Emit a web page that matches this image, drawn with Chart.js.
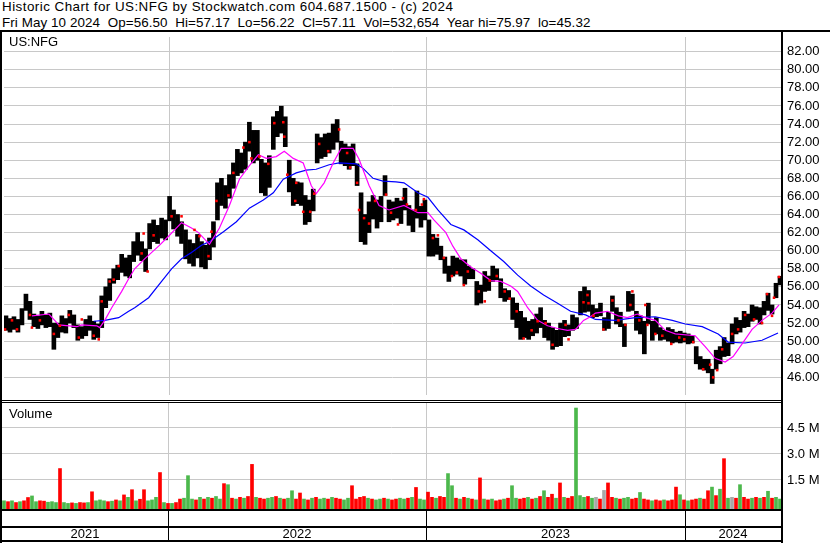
<!DOCTYPE html>
<html>
<head>
<meta charset="utf-8">
<script src="https://cdn.jsdelivr.net/npm/chart.js@4.4.1/dist/chart.umd.min.js"></script>
<style>
  body { margin: 0; background: #fff; }
  #page { position: relative; width: 830px; height: 543px; overflow: hidden; font-family: "Liberation Sans", Arial, sans-serif; color: #000; }
  .hdr { position: absolute; left: 2px; font-size: 13.4px; line-height: 15px; white-space: pre; }
  .tag { position: absolute; left: 9px; font-size: 13px; line-height: 15px; }
  .ln { position: absolute; background: #000; }
  canvas { position: absolute; left: 0; }
</style>
</head>
<body>
<div id="page">
  <div class="hdr" style="top:-1px;letter-spacing:0.46px">Historic Chart for US:NFG by Stockwatch.com 604.687.1500 - (c) 2024</div>
  <div class="hdr" style="top:15px;letter-spacing:0.09px">Fri May 10 2024  Op=56.50  Hi=57.17  Lo=56.22  Cl=57.11  Vol=532,654  Year hi=75.97  lo=45.32</div>

  <canvas id="price" width="830" height="366" style="top:33px"></canvas>
  <canvas id="volume" width="830" height="140" style="top:403px"></canvas>

  <div class="tag" style="top:34px">US:NFG</div>
  <div class="tag" style="top:406px">Volume</div>

  <div class="ln" style="left:0;top:30px;width:830px;height:2px"></div>
  <div class="ln" style="left:0;top:30px;width:2px;height:513px"></div>
  <div class="ln" style="left:781px;top:30px;width:2px;height:513px"></div>
  <div class="ln" style="left:0;top:400px;width:783px;height:1px"></div>
  <div class="ln" style="left:0;top:402px;width:783px;height:1px"></div>
</div>

<script>
// trading days shown, one pixel each; bars are 4-day windows
const dayCount = 780;
const yearStartDays = [166, 424, 683];
const yearLabels = ["2021", "2022", "2023", "2024"];

const priceTicks = [46, 48, 50, 52, 54, 56, 58, 60, 62, 64, 66, 68, 70, 72, 74, 76, 78, 80, 82];
const volumeTicks = [1.5, 3.0, 4.5];

const priceHigh = [
  52.8, 52.5, 52.7, 52.4, 53.6, 55.2, 54.4, 53.0, 52.8, 53.3,
  52.9, 53.1, 52.0, 52.0, 52.8, 52.5, 53.4, 52.9, 51.8, 51.6,
  52.4, 52.8, 52.2, 51.9, 55.0, 56.0, 56.9, 58.0, 58.4, 59.6,
  59.2, 59.5, 61.0, 62.0, 61.0, 60.2, 63.0, 63.4, 62.8, 63.6,
  63.4, 66.0, 64.5, 64.0, 63.2, 62.3, 61.2, 60.8, 61.8, 61.0,
  60.6, 61.4, 63.2, 67.5, 68.0, 67.2, 68.4, 69.7, 71.2, 70.8,
  72.0, 74.2, 73.3, 73.3, 70.1, 69.7, 70.5, 74.8, 75.4, 75.97,
  74.8, 70.0, 68.0, 67.6, 67.5, 66.1, 65.6, 66.8, 72.9, 72.5,
  72.9, 73.0, 74.0, 74.5, 72.1, 71.8, 71.5, 71.8, 69.6, 66.4,
  64.0, 65.4, 66.1, 65.6, 66.0, 68.3, 65.6, 65.4, 65.8, 65.5,
  66.9, 65.0, 64.5, 66.6, 64.9, 65.6, 63.4, 61.8, 61.4, 60.5,
  59.3, 58.3, 59.4, 59.2, 59.0, 59.0, 58.3, 58.0, 56.6, 56.2,
  57.7, 57.2, 58.3, 58.0, 56.9, 55.8, 55.6, 54.8, 54.2, 53.3,
  52.6, 52.2, 52.4, 53.0, 53.7, 52.3, 52.0, 51.5, 51.2, 52.0,
  52.3, 51.8, 52.9, 52.6, 55.5, 56.0, 55.6, 54.0, 53.6, 54.2,
  52.6, 53.2, 55.0, 53.7, 53.2, 51.9, 55.5, 55.2, 53.3, 52.8,
  52.2, 54.2, 52.2, 52.6, 51.5, 51.2, 51.5, 51.3, 51.0, 51.1,
  50.9, 50.8, 50.6, 49.4, 48.3, 48.0, 48.0, 46.9, 49.0, 49.4,
  50.4, 49.8, 51.9, 52.6, 52.3, 53.3, 53.0, 54.0, 53.8, 53.7,
  54.4, 55.3, 54.0, 56.4, 57.17
];

const priceLow = [
  51.2, 51.0, 51.3, 51.0, 51.8, 53.4, 52.4, 51.6, 51.4, 51.8,
  51.5, 51.6, 49.1, 50.4, 51.0, 50.9, 52.0, 51.5, 50.1, 50.3,
  50.6, 51.2, 50.2, 50.4, 51.5, 53.7, 54.5, 56.4, 56.8, 57.6,
  57.2, 57.0, 58.8, 59.5, 58.9, 57.7, 60.2, 61.0, 60.8, 61.4,
  61.2, 63.3, 62.4, 61.6, 60.8, 59.1, 58.6, 58.3, 59.2, 58.2,
  58.0, 59.0, 60.4, 63.4, 65.0, 64.7, 65.8, 66.9, 68.3, 68.6,
  69.0, 71.0, 69.7, 70.0, 66.4, 66.1, 67.0, 71.2, 72.6, 73.0,
  71.5, 66.5, 65.0, 65.2, 65.0, 62.9, 63.2, 64.4, 69.7, 70.2,
  70.4, 70.8, 71.2, 72.0, 69.6, 69.4, 69.0, 69.4, 67.2, 61.0,
  60.7, 62.0, 63.5, 62.5, 63.2, 66.1, 63.2, 63.4, 63.6, 63.0,
  64.5, 62.8, 62.1, 63.6, 62.6, 63.4, 59.4, 59.4, 59.6, 59.0,
  57.5, 56.6, 57.2, 57.4, 57.2, 56.3, 56.9, 56.9, 54.0, 54.2,
  55.5, 55.6, 56.6, 56.8, 54.8, 54.4, 54.6, 52.4, 51.5, 50.2,
  50.4, 50.2, 50.6, 50.9, 51.5, 50.4, 50.1, 49.1, 49.4, 49.5,
  50.5, 50.6, 51.2, 51.4, 52.9, 53.2, 53.3, 52.6, 52.7, 52.8,
  51.2, 51.4, 53.3, 51.9, 51.6, 49.4, 53.3, 53.4, 51.2, 50.8,
  48.6, 51.9, 50.1, 50.8, 50.1, 50.2, 50.0, 49.8, 49.9, 49.8,
  49.9, 49.7, 49.8, 47.5, 46.9, 46.8, 46.5, 45.32, 46.9, 47.5,
  48.3, 48.4, 49.7, 50.8, 51.0, 51.5, 51.6, 52.2, 52.4, 51.9,
  52.9, 53.4, 53.0, 54.8, 56.22
];

// volume in millions, same 4-day windows
const volumeM = [
  0.3, 0.25, 0.3, 0.2, 0.25, 0.3, 0.49, 0.58, 0.25, 0.3,
  0.28, 0.22, 0.25, 0.2, 2.16, 0.2, 0.15, 0.18, 0.15, 0.2,
  0.18, 0.2, 0.82, 0.3, 0.35, 0.3, 0.25, 0.28, 0.35, 0.3,
  0.64, 0.5, 0.94, 0.3, 0.39, 0.94, 0.3, 0.35, 0.5, 1.93,
  0.2, 0.15, 0.15, 0.2, 0.4, 0.45, 1.75, 0.4, 0.35, 0.5,
  0.4, 0.5, 0.45, 0.55, 0.4, 1.29, 1.23, 0.45, 0.4, 0.5,
  0.45, 0.55, 2.4, 0.5, 0.45, 0.4, 0.45, 0.5, 0.55, 0.45,
  0.4, 0.45, 0.88, 0.4, 0.75, 0.4, 0.35, 0.45, 0.5, 0.4,
  0.45, 0.4, 0.5, 0.45, 0.4, 0.35, 0.45, 1.17, 0.4, 0.5,
  0.55, 0.45, 0.4, 0.35, 0.4, 0.45, 0.4, 0.35, 0.4, 0.45,
  0.4, 0.45, 0.5, 1.07, 0.4, 0.35, 0.8, 0.5, 0.45, 0.55,
  0.5, 1.87, 1.17, 0.45, 0.4, 0.5, 0.45, 0.4, 0.35, 1.62,
  0.4, 0.35, 0.4, 0.3, 0.35, 0.4, 0.45, 1.17, 0.45, 0.4,
  0.45, 0.5, 0.4, 0.45, 0.55, 0.88, 0.5, 0.68, 0.45, 1.33,
  0.5, 0.45, 0.55, 5.65, 0.6, 0.5, 0.55, 0.45, 0.5, 0.4,
  0.9, 1.33, 0.5, 0.45, 0.4, 0.45, 0.5, 0.4, 0.45, 0.78,
  0.4, 0.35, 0.3, 0.35, 0.3, 0.35, 0.3, 0.35, 1.09, 0.65,
  0.35, 0.3, 0.35, 0.4, 0.45, 0.4, 0.88, 1.09, 0.6, 0.97,
  2.73, 0.45, 0.5, 0.45, 1.23, 0.5, 0.4, 0.45, 0.5, 0.45,
  0.5, 0.85, 0.45, 0.5, 0.4
];

// r = down, g = up, s = unchanged
const volumeDir =
  "grgrgrrggr" + "rgggrggrgr" + "rgrgggrgrg" + "rgrgrrgggr" + "grgrrgggrg" +
  "rgrggrgrgr" + "grrgrrggrg" + "rggrrgrgrg" + "grgrrggrrr" + "rgrggrgrrg" +
  "grgrggrrgr" + "rggrgrgrgr" + "grgrrgrggr" + "rgrgrgrrgr" + "grrgggrgsr" +
  "srrgrggrrg" + "rrgrrgrrrg" + "rgrrgrrgrg" + "rgsrgrrgrg" + "rgrgg";

// moving averages: day index and value
const fastDays = [28, 45, 55, 73, 78, 93, 96, 101, 108, 118, 125, 131, 141, 155, 165, 178, 188, 195, 206, 216,
  226, 236, 246, 255, 263, 273, 281, 290, 300, 308, 313, 321, 330, 338, 350, 356, 366, 376, 386, 401,
  415, 425, 431, 443, 450, 458, 468, 478, 488, 498, 508, 515, 525, 535, 545, 555, 565, 573, 581, 588,
  593, 605, 616, 625, 635, 643, 653, 663, 673, 693, 703, 713, 723, 731, 740, 750, 760, 770, 777];
const fastVals = [52.8, 53.0, 51.8, 51.6, 51.8, 51.7, 51.5, 52.3, 53.7, 55.5, 56.9, 58.0, 59.1, 60.5, 61.6, 63.1, 62.5, 62.0, 60.7, 62.5,
  65.0, 67.9, 69.4, 70.6, 70.2, 70.4, 71.0, 70.2, 69.7, 67.2, 66.3, 67.5, 69.7, 71.3, 71.3, 70.1, 67.2, 65.0, 64.5, 65.0,
  64.2, 64.2, 63.4, 62.0, 60.5, 59.1, 58.2, 57.5, 56.7, 56.6, 56.1, 55.5, 53.7, 52.3, 51.7, 51.4, 51.2, 51.3, 52.3, 52.7,
  53.1, 53.3, 52.8, 52.6, 53.0, 52.6, 52.3, 51.2, 50.8, 50.6, 49.4, 48.1, 47.7, 48.3, 49.7, 51.3, 52.3, 53.1, 54.0];

const slowDays = [90, 101, 115, 125, 131, 145, 158, 168, 178, 188, 198, 206, 220, 233, 246, 260, 270, 280, 293, 303,
  313, 326, 336, 353, 360, 370, 380, 393, 401, 415, 425, 435, 448, 461, 475, 488, 501, 515, 528, 541,
  555, 568, 583, 593, 613, 633, 653, 670, 683, 700, 716, 726, 743, 760, 776];
const slowVals = [52.2, 52.3, 52.6, 53.3, 53.7, 54.8, 56.6, 58.0, 59.1, 59.8, 60.6, 61.0, 62.1, 63.2, 64.7, 65.6, 66.4, 67.9, 68.6, 68.9,
  69.0, 69.5, 69.7, 69.6, 69.1, 68.0, 67.7, 67.6, 67.5, 66.4, 65.9, 64.5, 62.9, 62.3, 61.2, 60.0, 58.8, 57.3, 56.1, 55.1,
  54.2, 53.3, 52.9, 52.4, 52.3, 52.6, 52.7, 52.3, 51.9, 51.6, 50.8, 49.9, 49.8, 50.1, 50.9];

// small red close marks seen on the bars
const markDays = [1, 8, 13, 26, 28, 36, 50, 56, 65, 75, 78, 90, 95, 98, 106,
  110, 115, 138, 140, 144, 150, 168, 178, 191, 196,
  205, 208, 213, 225, 230, 240, 246, 248, 256, 265, 271, 280, 281, 284, 292, 293, 300, 307, 311, 316,
  325, 336, 344, 347, 354, 356, 361, 366, 372, 383, 388,
  395, 400, 404, 413, 419, 421, 430, 435, 441, 449, 454, 461, 465, 476, 482, 487, 494, 502, 507, 514,
  521, 529, 535, 543, 550, 563, 566, 581,
  585, 586, 591, 601, 610, 616, 623, 628, 630, 637, 643, 645, 653, 660, 669, 677, 682, 691,
  701, 708, 711, 715, 720, 730, 736, 743, 752, 760, 765, 770, 772, 777];
const markVals = [51.3, 52.3, 51.3, 52.9, 51.5, 52.3, 50.8, 51.7, 52.9, 50.4, 52.4, 50.6, 50.2, 54.4, 56.6,
  56.8, 58.3, 59.7, 61.9, 57.7, 61.7, 63.8, 63.8, 62.3, 61.6,
  59.4, 62.1, 65.5, 66.1, 68.6, 71.4, 72.0, 70.2, 70.4, 69.6, 74.1, 74.2, 72.6, 68.4, 65.5, 67.5, 64.3, 64.3, 66.3, 71.8,
  71.0, 73.4, 70.8, 69.2, 67.5, 64.5, 63.6, 63.0, 65.5, 66.2, 64.2,
  62.9, 65.8, 65.1, 64.5, 65.1, 65.7, 61.4, 61.7, 59.2, 57.2, 57.6, 56.2, 57.7, 55.5, 54.4, 56.7, 57.2, 55.5, 54.7, 53.3,
  50.3, 51.2, 52.2, 52.0, 49.6, 51.8, 50.2, 54.3,
  55.1, 54.2, 52.8, 51.3, 54.5, 52.3, 51.8, 54.0, 55.5, 52.3, 54.0, 51.8, 50.8, 50.6, 49.7, 50.4, 50.2, 49.9,
  46.9, 47.4, 46.0, 46.8, 49.1, 50.8, 51.3, 52.9, 52.4, 52.0, 55.2, 52.8, 54.8, 57.1];

const GRID = "#c8c8c8";
const FONT = '"Liberation Sans", Arial, sans-serif';
const VOL_MIN = -0.23;
const VOL_MAX = 5.94;

Chart.defaults.font.family = FONT;
Chart.defaults.font.size = 13;
Chart.defaults.color = "#000";
Chart.defaults.animation = false;
Chart.defaults.events = [];
Chart.defaults.plugins.legend.display = false;
Chart.defaults.plugins.tooltip.enabled = false;

const windowDay = (i) => i * 4 + 2;

function dayAxis() {
  return {
    type: "linear",
    min: 0,
    max: dayCount - 1,
    offset: false,
    grid: { color: GRID, drawTicks: false, offset: false },
    border: { display: false },
    ticks: { display: false },
    afterBuildTicks: (s) => { s.ticks = yearStartDays.map((v) => ({ value: v })); },
    afterFit: (s) => { s.height = 0; s.paddingLeft = 0; s.paddingRight = 0; },
  };
}

function rightAxis(min, max, ticks, fmt) {
  return {
    position: "right",
    min: min,
    max: max,
    grid: { color: GRID, drawTicks: false },
    border: { display: false },
    ticks: { padding: 6, autoSkip: false, color: "#000", font: { size: 13 }, callback: fmt },
    afterBuildTicks: (s) => { s.ticks = ticks.map((v) => ({ value: v })); },
    afterFit: (s) => { s.width = 49; s.paddingTop = 0; s.paddingBottom = 0; },
  };
}

new Chart(document.getElementById("price"), {
  type: "bar",
  data: {
    datasets: [
      {
        type: "scatter",
        data: markDays.map((d, k) => ({ x: d, y: markVals[k] })),
        pointStyle: "rect",
        pointRadius: 1.8,
        pointBorderWidth: 0,
        backgroundColor: "#ff0000",
      },
      {
        type: "line",
        data: fastDays.map((d, k) => ({ x: d, y: fastVals[k] })),
        borderColor: "#ff00ff",
        borderWidth: 1.2,
        pointRadius: 0,
      },
      {
        type: "line",
        data: slowDays.map((d, k) => ({ x: d, y: slowVals[k] })),
        borderColor: "#0000ff",
        borderWidth: 1.2,
        pointRadius: 0,
      },
      {
        type: "bar",
        data: priceHigh.map((h, i) => ({ x: windowDay(i), y: [priceLow[i], h] })),
        backgroundColor: "#000",
        barThickness: 4,
        grouped: false,
      },
    ],
  },
  options: {
    responsive: false,
    devicePixelRatio: 1,
    layout: { padding: { left: 2, right: 0, top: 0, bottom: 0 } },
    scales: {
      x: dayAxis(),
      y: rightAxis(44.05, 83.62, priceTicks, (v) => v.toFixed(2)),
    },
  },
});

// bottom strip with the year cells, placed from the day axis
const yearRows = {
  id: "yearRows",
  afterDraw(chart) {
    const { ctx, chartArea: a, scales: { x } } = chart;
    const b = a.bottom;
    ctx.save();
    ctx.fillStyle = "#000";
    ctx.fillRect(0, b - 1, a.right + 2, 2);
    ctx.fillRect(0, b + 16, a.right + 2, 2);
    ctx.fillRect(0, b + 30, a.right + 2, 2);
    const cuts = yearStartDays.map((d) => Math.round(x.getPixelForValue(d)));
    cuts.forEach((px) => ctx.fillRect(px, b, 1, 31));
    const edges = [x.left, ...cuts, x.right];
    ctx.font = "13px " + FONT;
    ctx.textAlign = "center";
    ctx.textBaseline = "middle";
    yearLabels.forEach((lab, k) => ctx.fillText(lab, (edges[k] + edges[k + 1]) / 2, b + 24));
    ctx.restore();
  },
};

const dirColor = { r: "#ff0000", g: "#4cb84c", s: "#a8a8a8" };

new Chart(document.getElementById("volume"), {
  type: "bar",
  data: {
    datasets: [
      {
        data: volumeM.map((v, i) => ({ x: windowDay(i), y: v })),
        backgroundColor: volumeM.map((v, i) => dirColor[volumeDir[i]]),
        base: VOL_MIN,
        barThickness: 3,
      },
    ],
  },
  options: {
    responsive: false,
    devicePixelRatio: 1,
    layout: { padding: { left: 2, right: 0, top: 0, bottom: 33 } },
    scales: {
      x: dayAxis(),
      y: rightAxis(VOL_MIN, VOL_MAX, volumeTicks, (v) => v.toFixed(1) + " M"),
    },
  },
  plugins: [yearRows],
});
</script>
</body>
</html>
